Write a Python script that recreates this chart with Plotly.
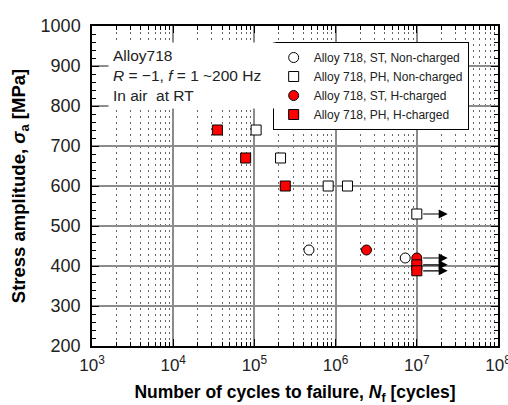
import numpy as np
import plotly.graph_objects as go

# ---- data ----
st_nc_N = [4.7e5, 7.2e6]
st_nc_S = [440, 420]
ph_nc_N = [1.05e5, 2.1e5, 8.1e5, 1.4e6, 1.0e7]
ph_nc_S = [740, 670, 600, 600, 530]
st_h_N = [2.4e6, 1.0e7]
st_h_S = [440, 420]
ph_h_N = [3.5e4, 7.8e4, 2.4e5, 1.0e7, 1.0e7]
ph_h_S = [740, 670, 600, 403, 388]
runout_N = [1.0e7, 1.0e7, 1.0e7, 1.0e7]
runout_S = [530, 420, 403, 388]
arrow_end_N = 2.4e7

x_tickvals = [1e3, 1e4, 1e5, 1e6, 1e7, 1e8]
x_ticktext = ["10<sup>3</sup>", "10<sup>4</sup>", "10<sup>5</sup>", "10<sup>6</sup>", "10<sup>7</sup>", "10<sup>8</sup>"]
x_minorvals = [k * 10 ** e for e in range(3, 8) for k in range(2, 10)]
y_tickvals = list(range(200, 1001, 100))

fig = go.Figure()
mk = dict(size=10, line=dict(color="black", width=1))
fig.add_trace(go.Scatter(x=st_nc_N, y=st_nc_S, mode="markers", name="Alloy 718, ST, Non-charged",
                         marker=dict(symbol="circle", color="white", **mk)))
fig.add_trace(go.Scatter(x=ph_nc_N, y=ph_nc_S, mode="markers", name="Alloy 718, PH, Non-charged",
                         marker=dict(symbol="square", color="white", **mk)))
fig.add_trace(go.Scatter(x=st_h_N, y=st_h_S, mode="markers", name="Alloy 718, ST, H-charged",
                         marker=dict(symbol="circle", color="red", **mk)))
fig.add_trace(go.Scatter(x=ph_h_N, y=ph_h_S, mode="markers", name="Alloy 718, PH, H-charged",
                         marker=dict(symbol="square", color="red", **mk)))

for n, s in zip(runout_N, runout_S):
    fig.add_annotation(x=np.log10(arrow_end_N), y=s, ax=np.log10(n) + 0.06, ay=s,
                       xref="x", yref="y", axref="x", ayref="y",
                       showarrow=True, arrowhead=2, arrowsize=1.5, arrowwidth=1.2,
                       arrowcolor="black", text="")

fig.add_annotation(xref="paper", yref="paper", x=0.04, y=0.95, xanchor="left", yanchor="top",
                   text="Alloy718<br><i>R</i> = −1, <i>f</i> = 1 ~200 Hz<br>In air  at RT",
                   align="left", showarrow=False, bgcolor="white", width=158, borderpad=4,
                   font=dict(family="Arial, Liberation Sans", size=15.5, color="#222"))

axis_common = dict(showline=True, linecolor="black", linewidth=1.5, mirror="allticks",
                   ticks="inside", tickcolor="black", ticklen=7, automargin=False,
                   zeroline=False, layer="below traces")

fig.update_xaxes(type="log", range=[3, 8], tickvals=x_tickvals, ticktext=x_ticktext,
                 tickfont=dict(family="Arial, Liberation Sans", size=17, color="#222"),
                 ticklabelstandoff=3, ticklabeloverflow="allow",
                 showgrid=True, gridcolor="#8c8c8c", gridwidth=1.5,
                 minor=dict(tickvals=x_minorvals, ticks="inside", ticklen=4, tickcolor="black",
                            showgrid=True, gridcolor="#666", griddash="2px,4px", gridwidth=1),
                 title=dict(text="<b>Number of cycles to failure, <i>N</i><sub>f</sub> [cycles]</b>",
                            font=dict(family="Arial, Liberation Sans", size=17.5, color="black"), standoff=12),
                 **axis_common)
fig.update_yaxes(range=[200, 1000], tickvals=y_tickvals,
                 tickfont=dict(family="Arial, Liberation Sans", size=18, color="#222"),
                 ticklabelstandoff=6,
                 showgrid=True, gridcolor="#8c8c8c", gridwidth=1.5,
                 minor=dict(ticks="inside", ticklen=4, tickcolor="black", dtick=20, showgrid=False),
                 title=dict(text="<b>Stress amplitude, <i>σ</i><sub>a</sub> [MPa]</b>",
                            font=dict(family="Arial, Liberation Sans", size=18.5, color="black"), standoff=10),
                 **axis_common)

fig.update_layout(
    width=508, height=405,
    margin=dict(l=92, r=10, t=26, b=59),
    plot_bgcolor="white", paper_bgcolor="white",
    showlegend=True,
    legend=dict(x=0.445, y=0.95, xanchor="left", yanchor="top",
                bgcolor="white", bordercolor="black", borderwidth=1,
                font=dict(family="Liberation Sans, Arial", size=12, color="#222"),
                tracegroupgap=0, itemwidth=30),
)

fig.write_html("out.html")
